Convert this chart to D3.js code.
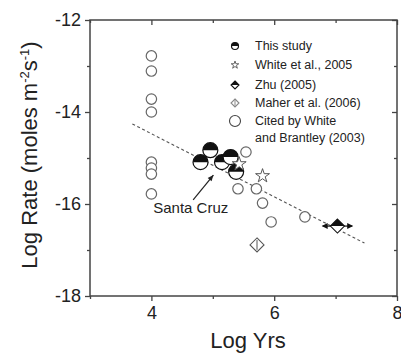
<!DOCTYPE html>
<html>
<head>
<meta charset="utf-8">
<script src="https://cdn.jsdelivr.net/npm/d3@7"></script>
<style>
  body { margin: 0; background: #fff; }
  svg { font-family: Arial, "Liberation Sans", sans-serif; }
</style>
</head>
<body>
<div id="chart"></div>
<script>
const width = 401;
const height = 355;

// This study (half-filled circles)
const studyX = [4.80, 4.96, 5.15, 5.29, 5.38];
const studyY = [-15.09, -14.83, -15.09, -14.98, -15.30];

// White et al., 2005 (stars)
const whiteX = [5.43, 5.81];
const whiteY = [-15.13, -15.39];

// Zhu (2005) with x error
const zhuX = [7.03];
const zhuY = [-16.48];
const zhuErr = [0.24];

// Maher et al. (2006)
const maherX = [5.72];
const maherY = [-16.89];

// Cited by White and Brantley (2003)
const citedX = [4, 4, 4, 4, 4, 4, 4, 4, 5.54, 5.41, 5.71, 5.81, 5.95, 6.50];
const citedY = [-12.78, -13.11, -13.72, -14.0, -15.09, -15.22, -15.35, -15.78,
                -14.87, -15.67, -15.67, -15.98, -16.39, -16.28];

// fit line (dashed)
const fitX = [3.69, 7.47];
const fitY = [-14.26, -16.85];

const xMajor = [4, 6, 8];
const xMinor = [3, 5, 7];
const yMajor = [-12, -14, -16, -18];
const yMinor = [-13, -15, -17];

const legendLabels = ["This study", "White et al., 2005", "Zhu (2005)", "Maher et al. (2006)",
                      "Cited by White", "and Brantley (2003)"];

const svg = d3.select("#chart")
    .append("svg")
    .attr("width", width)
    .attr("height", height);

const x = d3.scaleLinear().domain([3, 8]).range([90, 397]);
const y = d3.scaleLinear().domain([-18, -12]).range([296, 20]);

const axisColor = "#444";

// frame
svg.append("rect")
    .attr("x", x(3)).attr("y", y(-12))
    .attr("width", x(8) - x(3)).attr("height", y(-18) - y(-12))
    .attr("fill", "none").attr("stroke", axisColor).attr("stroke-width", 1.5);

// axes: outward on bottom/left, inward mirrored on top/right
function tickAxis(axisFn, scale, vals, size, pos, fmt) {
    return svg.append("g")
        .attr("transform", pos)
        .call(axisFn(scale).tickValues(vals).tickSize(size).tickFormat(fmt));
}
const noLabel = () => "";

const xb = tickAxis(d3.axisBottom, x, xMajor, 5, `translate(0,${y(-18)})`, d3.format("d"));
tickAxis(d3.axisBottom, x, xMinor, 3, `translate(0,${y(-18)})`, noLabel);
tickAxis(d3.axisBottom, x, xMajor, 5, `translate(0,${y(-12)})`, noLabel).selectAll("line").attr("y2", 5);
tickAxis(d3.axisBottom, x, xMinor, 3, `translate(0,${y(-12)})`, noLabel).selectAll("line").attr("y2", 3);

const yl = tickAxis(d3.axisLeft, y, yMajor, 5, `translate(${x(3)},0)`, d3.format("d"));
tickAxis(d3.axisLeft, y, yMinor, 3, `translate(${x(3)},0)`, noLabel);
tickAxis(d3.axisLeft, y, yMajor, 5, `translate(${x(8)},0)`, noLabel);
tickAxis(d3.axisLeft, y, yMinor, 3, `translate(${x(8)},0)`, noLabel);

svg.selectAll(".domain").remove();
svg.selectAll(".tick line").attr("stroke", axisColor).attr("stroke-width", 1.3);
svg.selectAll(".tick text")
    .attr("fill", "#222")
    .style("font-size", "18px");
xb.selectAll(".tick text").attr("dy", "0.85em");
yl.selectAll(".tick text").text(d => d < 0 ? "-" + Math.abs(d) : d).attr("x", -9);

// axis titles
svg.append("text")
    .attr("x", 248).attr("y", 348)
    .attr("text-anchor", "middle")
    .attr("fill", "#222")
    .style("font-size", "22px")
    .text("Log Yrs");

const yt = svg.append("text")
    .attr("transform", "translate(37,155) rotate(-90)")
    .attr("text-anchor", "middle")
    .attr("fill", "#222")
    .style("font-size", "22px");
yt.append("tspan").text("Log Rate (moles m");
yt.append("tspan").attr("dy", -8).style("font-size", "13px").text("-2");
yt.append("tspan").attr("dy", 8).text("s");
yt.append("tspan").attr("dy", -8).style("font-size", "13px").text("-1");
yt.append("tspan").attr("dy", 8).text(")");

// fit line
svg.append("line")
    .attr("x1", x(fitX[0])).attr("y1", y(fitY[0]))
    .attr("x2", x(fitX[1])).attr("y2", y(fitY[1]))
    .attr("stroke", "#555").attr("stroke-width", 1.1)
    .attr("stroke-dasharray", "3,2.5");

// symbol helpers
function halfCircle(g, cx, cy, r) {
    g.append("circle").attr("cx", cx).attr("cy", cy).attr("r", r)
        .attr("fill", "#fff").attr("stroke", "#111").attr("stroke-width", 1.2);
    g.append("path")
        .attr("d", `M${cx - r},${cy} A${r},${r} 0 0 1 ${cx + r},${cy} Z`)
        .attr("fill", "#111");
}
function diamondPath(cx, cy, r) {
    return `M${cx},${cy - r} L${cx + r},${cy} L${cx},${cy + r} L${cx - r},${cy} Z`;
}
function halfDiamond(g, cx, cy, r) {
    g.append("path").attr("d", diamondPath(cx, cy, r))
        .attr("fill", "#fff").attr("stroke", "#111").attr("stroke-width", 1.1);
    g.append("path").attr("d", `M${cx - r},${cy} L${cx},${cy - r} L${cx + r},${cy} Z`)
        .attr("fill", "#111");
}
function barDiamond(g, cx, cy, r, color) {
    g.append("path").attr("d", diamondPath(cx, cy, r))
        .attr("fill", "#fff").attr("stroke", color).attr("stroke-width", 1.1);
    g.append("line")
        .attr("x1", cx).attr("x2", cx)
        .attr("y1", cy - r * 0.7).attr("y2", cy + r * 0.7)
        .attr("stroke", color).attr("stroke-width", 1);
}
function star(g, cx, cy, size, color) {
    g.append("path")
        .attr("d", d3.symbol(d3.symbolStar, size)())
        .attr("transform", `translate(${cx},${cy})`)
        .attr("fill", "#fff").attr("stroke", color).attr("stroke-width", 1);
}

const marks = svg.append("g");

// cited (open circles)
marks.selectAll(".cited")
    .data(citedX.map((d, i) => [d, citedY[i]]))
    .join("circle")
    .attr("cx", d => x(d[0])).attr("cy", d => y(d[1]))
    .attr("r", 5.2)
    .attr("fill", "#fff").attr("stroke", "#666").attr("stroke-width", 1.2);

// Maher
maherX.forEach((d, i) => barDiamond(marks, x(d), y(maherY[i]), 7, "#555"));

// this study
studyX.forEach((d, i) => halfCircle(marks, x(d), y(studyY[i]), 7.5));

// White stars
whiteX.forEach((d, i) => star(marks, x(d), y(whiteY[i]), 60, "#555"));

// Zhu with error bar
zhuX.forEach((d, i) => {
    const cy = y(zhuY[i]);
    const x0 = x(d - zhuErr[i]), x1 = x(d + zhuErr[i]);
    marks.append("line").attr("x1", x0).attr("x2", x1).attr("y1", cy).attr("y2", cy)
        .attr("stroke", "#111").attr("stroke-width", 1.2);
    marks.append("path").attr("d", `M${x0 - 1},${cy} L${x0 + 5},${cy - 3} L${x0 + 5},${cy + 3} Z`).attr("fill", "#111");
    marks.append("path").attr("d", `M${x1 + 1},${cy} L${x1 - 5},${cy - 3} L${x1 - 5},${cy + 3} Z`).attr("fill", "#111");
    halfDiamond(marks, x(d), cy, 7);
});

// Santa Cruz annotation
svg.append("text")
    .attr("x", x(4.03)).attr("y", y(-16.19))
    .attr("fill", "#222")
    .style("font-size", "15px")
    .text("Santa Cruz");
const ax0 = x(4.68), ay0 = y(-15.91), ax1 = x(5.01), ay1 = y(-15.37);
svg.append("line").attr("x1", ax0).attr("y1", ay0).attr("x2", ax1).attr("y2", ay1)
    .attr("stroke", "#222").attr("stroke-width", 1.2);
const ang = Math.atan2(ay1 - ay0, ax1 - ax0);
svg.append("path")
    .attr("d", "M0,0 L-6,-2.5 L-6,2.5 Z")
    .attr("transform", `translate(${ax1},${ay1}) rotate(${ang * 180 / Math.PI})`)
    .attr("fill", "#222");

// legend
const leg = svg.append("g");
const lx = 235, tx = 255;
const rows = [46, 65, 85, 103, 121, 138];
halfCircle(leg, lx, rows[0], 3.5);
star(leg, lx, rows[1], 18, "#666");
halfDiamond(leg, lx, rows[2], 4);
barDiamond(leg, lx, rows[3], 4, "#888");
leg.append("circle").attr("cx", lx).attr("cy", rows[4]).attr("r", 5.5)
    .attr("fill", "#fff").attr("stroke", "#444").attr("stroke-width", 1.1);

leg.selectAll("text")
    .data(legendLabels)
    .join("text")
    .attr("x", tx)
    .attr("y", (d, i) => rows[i])
    .attr("dy", "0.35em")
    .attr("fill", "#222")
    .style("font-size", "12.5px")
    .text(d => d);
</script>
</body>
</html>
